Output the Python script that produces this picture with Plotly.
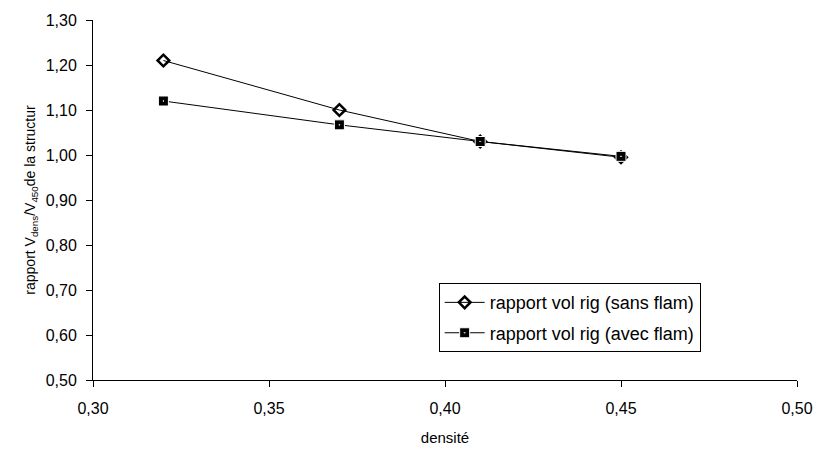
import plotly.graph_objects as go

densite = [0.32, 0.37, 0.41, 0.45]
sans_flam = [1.21, 1.10, 1.03, 0.995]
avec_flam = [1.12, 1.067, 1.03, 0.997]
x_ticks = [0.30, 0.35, 0.40, 0.45, 0.50]
y_ticks = [0.50, 0.60, 0.70, 0.80, 0.90, 1.00, 1.10, 1.20, 1.30]

fig = go.Figure()
fig.add_trace(go.Scatter(
    x=densite, y=sans_flam, mode="lines+markers",
    name="rapport vol rig (sans flam)", legendgroup="a",
    line=dict(color="black", width=1),
    marker=dict(symbol="diamond-open", size=9, color="black", line=dict(width=2.5, color="black")),
))
fig.add_trace(go.Scatter(
    x=densite, y=avec_flam, mode="lines+markers",
    name="rapport vol rig (avec flam)", legendgroup="b",
    line=dict(color="black", width=1),
    marker=dict(symbol="square-dot", size=10, color="black", line=dict(width=1, color="white")),
))

font = "Liberation Sans, Arial, sans-serif"
fig.update_layout(
    width=818, height=449,
    margin=dict(l=93, r=21, t=20, b=69),
    paper_bgcolor="white", plot_bgcolor="white",
    separators=", ",
    font=dict(family=font, size=16, color="black"),
    showlegend=True,
    legend=dict(
        x=0.491, y=0.269, xanchor="left", yanchor="top",
        bordercolor="black", borderwidth=1, bgcolor="white",
        font=dict(family=font, size=18, color="black"),
        traceorder="grouped", tracegroupgap=4, itemwidth=40,
    ),
    xaxis=dict(
        range=[0.30, 0.50], tickvals=x_ticks, tickformat=".2f",
        showgrid=False, zeroline=False, showline=True, linecolor="black", linewidth=1,
        ticks="outside", ticklen=6, tickcolor="black", ticklabelstandoff=8,
        automargin=False,
        title=dict(text="densité", font=dict(size=15), standoff=16),
    ),
    yaxis=dict(
        range=[0.50, 1.30], tickvals=y_ticks, tickformat=".2f",
        showgrid=False, zeroline=False, showline=True, linecolor="black", linewidth=1,
        ticks="outside", ticklen=6, tickcolor="black", ticklabelstandoff=6,
        automargin=False,
        title=dict(text="rapport V<sub>dens</sub>/V<sub>450</sub>de la structur", font=dict(size=14), standoff=6),
    ),
)

fig.write_html(
    "out.html",
    config={"displayModeBar": False},
    post_script="document.body.style.margin='0';document.body.style.padding='0';",
)
